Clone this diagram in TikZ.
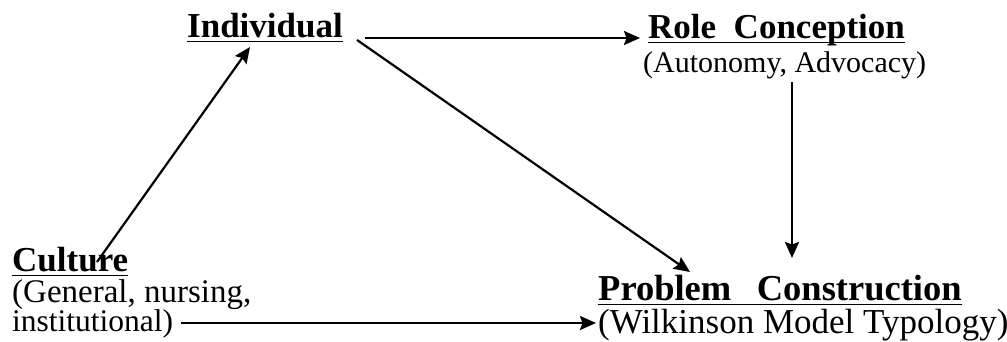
\documentclass[tikz,border=0pt]{standalone}
\usepackage{fontspec}
\setmainfont{Liberation Serif}
\usetikzlibrary{arrows.meta}
\begin{document}
\begin{tikzpicture}[x=1pt,y=-1pt,
  txt/.style={anchor=base west,inner sep=0pt,font=\fontsize{#1}{#1}\selectfont},
  txt/.default=30,
  head/.style={anchor=base west,inner sep=0pt,font=\fontsize{#1}{#1}\selectfont\bfseries},
  head/.default=35,
  uline/.style={line width=1.8pt},
  conn/.style={line width=2.2pt,-{Stealth[length=16pt,width=14pt,inset=2.5pt]}}]
\useasboundingbox (0,0) rectangle (1007,341);
\node[head] (ind) at (187,37) {Individual};
\node[head] (role) at (648,38) {Role\ \ Conception};
\node[txt=30] (roleSub) at (643,72) {(Autonomy, Advocacy)};
\node[head] (cult) at (12,271) {Culture};
\node[txt=33] (cultSubA) at (12,302) {(General, nursing,};
\node[txt=31.5] (cultSubB) at (12,331) {institutional)};
\node[head=36.5] (prob) at (598,300) {Problem\hspace{0.7em}Construction};
\node[txt=35] (probSub) at (598,333) {(Wilkinson Model Typology)};
\foreach \n in {ind,role,cult,prob}
  \draw[uline] ([yshift=-4.5pt]\n.base west) -- ([yshift=-4.5pt]\n.base east);
% connectors
\draw[conn] ([xshift=85pt,yshift=9pt]cult.base west) -- ([xshift=63pt,yshift=-10pt]ind.base west);
\draw[conn] ([xshift=22pt,yshift=-1pt]ind.base east) -- ([xshift=-8pt]role.base west);
\draw[conn] ([xshift=14pt,yshift=-3pt]ind.base east) -- ([xshift=92pt,yshift=28pt]prob.base west);
\draw[conn] ([xshift=149pt,yshift=-10pt]roleSub.base west) -- ([xshift=194pt,yshift=42pt]prob.base west);
\draw[conn] ([xshift=8pt,yshift=8pt]cultSubB.base east) -- ([xshift=-2pt,yshift=10pt]probSub.base west);
\end{tikzpicture}
\end{document}
